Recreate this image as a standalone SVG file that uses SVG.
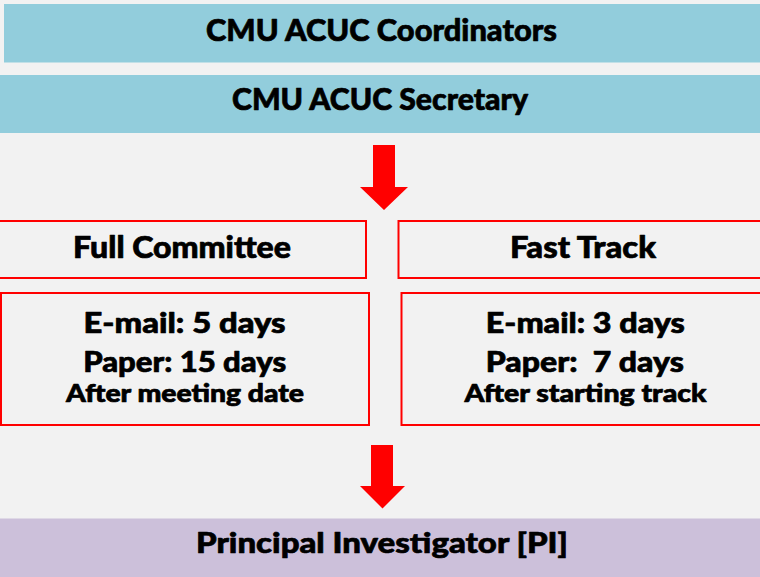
<svg xmlns="http://www.w3.org/2000/svg" width="760" height="577" viewBox="0 0 760 577">
<style>
.t{font-family:Lato,"DejaVu Sans",sans-serif;font-weight:900;fill:#000;stroke:#000;stroke-width:0.7;stroke-linejoin:round;text-anchor:middle}
.bar{fill:#92CDDC}
.box{fill:#F2F2F2;stroke:#FF0000;stroke-width:2}
.arr{fill:#FF0000}
</style>
<rect x="0" y="0" width="760" height="577" fill="#F2F2F2"/>
<g id="coordinators">
<rect class="bar" x="4" y="4" width="760" height="58.5"/>
<text class="t" x="381.5" y="41" font-size="31" textLength="351" lengthAdjust="spacingAndGlyphs">CMU ACUC Coordinators</text>
</g>
<g id="secretary">
<rect class="bar" x="-2" y="75" width="766" height="58"/>
<text class="t" x="380" y="110" font-size="31" textLength="296" lengthAdjust="spacingAndGlyphs">CMU ACUC Secretary</text>
</g>
<g id="full-committee">
<rect class="box" x="-5" y="221" width="371" height="57"/>
<text class="t" x="182" y="257.5" font-size="30" textLength="218" lengthAdjust="spacingAndGlyphs">Full Committee</text>
</g>
<g id="fast-track">
<rect class="box" x="398.5" y="221" width="370" height="57"/>
<text class="t" x="583" y="257.5" font-size="30" textLength="146" lengthAdjust="spacingAndGlyphs">Fast Track</text>
</g>
<g id="full-committee-times">
<rect class="box" x="1" y="293" width="368" height="132"/>
<text class="t" x="184.5" y="333.3" font-size="29" textLength="202" lengthAdjust="spacingAndGlyphs">E-mail: 5 days</text>
<text class="t" x="184.7" y="371.7" font-size="29" textLength="203" lengthAdjust="spacingAndGlyphs">Paper: 15 days</text>
<text class="t" x="185" y="401.7" font-size="24" textLength="238" lengthAdjust="spacingAndGlyphs">After meeting date</text>
</g>
<g id="fast-track-times">
<rect class="box" x="401.5" y="293" width="370" height="132"/>
<text class="t" x="585.3" y="333.3" font-size="29" textLength="199" lengthAdjust="spacingAndGlyphs">E-mail: 3 days</text>
<text class="t" x="584.8" y="371.7" font-size="29" textLength="198" lengthAdjust="spacingAndGlyphs" xml:space="preserve">Paper:  7 days</text>
<text class="t" x="585.5" y="401.7" font-size="24" textLength="242" lengthAdjust="spacingAndGlyphs">After starting track</text>
</g>
<g id="principal-investigator">
<rect x="-2" y="518.5" width="766" height="62" fill="#CCC0DA"/>
<text class="t" x="382" y="553" font-size="29" textLength="372" lengthAdjust="spacingAndGlyphs">Principal Investigator [PI]</text>
</g>
<g id="connectors">
<polygon class="arr" points="373,145 395,145 395,187 408,187 384,210 360,187 373,187"/>
<polygon class="arr" points="371,445 393,445 393,486 405,486 382.5,508.5 360,486 371,486"/>
</g>
</svg>
